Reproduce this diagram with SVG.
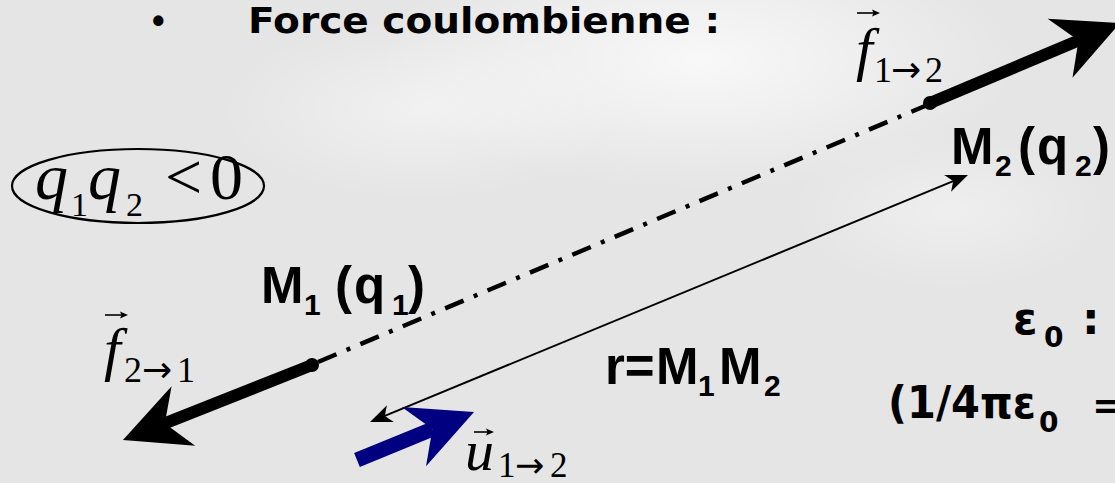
<svg xmlns="http://www.w3.org/2000/svg" width="1115" height="483" viewBox="0 0 1115 483">
  <style>
    .title { font-family: "DejaVu Sans", sans-serif; font-weight: bold; fill: #000; }
    .lbl { font-family: "Liberation Sans", Arial, sans-serif; font-weight: bold; fill: #000; }
    .math { font-family: "Liberation Serif", "Times New Roman", serif; fill: #000; }
    .it { font-style: italic; }
    .arr { font-family: "DejaVu Sans", sans-serif; }
    .vec { stroke: #000; stroke-width: 1.6; fill: none; }
    .vech { fill: #000; }
  </style>
  <defs>
    <radialGradient id="glow" cx="50%" cy="50%" r="50%">
      <stop offset="0" stop-color="#ffffff" stop-opacity="0.75"/>
      <stop offset="1" stop-color="#ffffff" stop-opacity="0"/>
    </radialGradient>
    <marker id="thin" markerUnits="userSpaceOnUse" overflow="visible" orient="auto-start-reverse" refX="-16" refY="0" markerWidth="30" markerHeight="30">
      <path d="M0,0 L-22,-9 L-16,0 L-22,9 Z" fill="#000"/>
    </marker>
    <marker id="thick" markerUnits="userSpaceOnUse" overflow="visible" orient="auto" refX="-45" refY="0" markerWidth="80" markerHeight="80">
      <path d="M0,0 L-65,-32 L-45,0 L-65,32 Z" fill="#000"/>
    </marker>
    <marker id="thickBlue" markerUnits="userSpaceOnUse" overflow="visible" orient="auto" refX="-45" refY="0" markerWidth="80" markerHeight="80">
      <path d="M0,0 L-65,-32 L-45,0 L-65,32 Z" fill="#000080"/>
    </marker>
  </defs>

  <!-- background -->
  <rect x="0" y="0" width="1115" height="483" fill="#e5e5e5"/>
  <ellipse cx="700" cy="60" rx="320" ry="130" fill="url(#glow)"/>
  <ellipse cx="420" cy="110" rx="200" ry="90" fill="url(#glow)" opacity="0.6"/>
  <ellipse cx="950" cy="210" rx="160" ry="80" fill="url(#glow)" opacity="0.5"/>

  <!-- title -->
  <g id="title">
    <text class="lbl" x="152" y="33" font-size="36" font-weight="normal">•</text>
    <text class="title" x="248" y="33" font-size="36" textLength="472" lengthAdjust="spacingAndGlyphs">Force coulombienne :</text>
  </g>

  <!-- condition q1q2<0 -->
  <g id="condition">
    <ellipse cx="138" cy="186" rx="126" ry="37" fill="none" stroke="#000" stroke-width="2.2"/>
    <text class="math" font-size="66"><tspan class="it" x="35" y="199">q</tspan><tspan x="71" y="216" font-size="34">1</tspan><tspan class="it" x="88" y="199">q</tspan><tspan x="126" y="216" font-size="34">2</tspan><tspan x="165" y="199">&lt;</tspan><tspan x="210" y="199">0</tspan></text>
  </g>

  <!-- connectors -->
  <g id="connectors">
    <line x1="318" y1="362" x2="925" y2="106" stroke="#000" stroke-width="4.5" stroke-dasharray="20 11 4 11"/>
    <line x1="384.8" y1="415.9" x2="953.2" y2="181.1" stroke="#000" stroke-width="2" marker-start="url(#thin)" marker-end="url(#thin)"/>
    <line x1="312" y1="365" x2="164.8" y2="423.4" stroke="#000" stroke-width="12" stroke-linecap="round" marker-end="url(#thick)"/>
    <circle cx="312" cy="365" r="7" fill="#000"/>
    <line x1="930" y1="103" x2="1078.5" y2="40.5" stroke="#000" stroke-width="12" stroke-linecap="round" marker-end="url(#thick)"/>
    <circle cx="930" cy="103" r="7" fill="#000"/>
    <line x1="357" y1="460" x2="432.4" y2="429.1" stroke="#000080" stroke-width="15" marker-end="url(#thickBlue)"/>
  </g>

  <!-- M1 -->
  <g id="M1">
    <text class="lbl" font-size="51"><tspan x="261" y="303">M</tspan><tspan x="304" y="315" font-size="30">1</tspan><tspan x="335" y="303">(</tspan><tspan x="354" y="303">q</tspan><tspan x="392" y="315" font-size="30">1</tspan><tspan x="408" y="303">)</tspan></text>
  </g>

  <!-- M2 -->
  <g id="M2">
    <text class="lbl" font-size="51"><tspan x="951" y="164">M</tspan><tspan x="995" y="176" font-size="30">2</tspan><tspan x="1018" y="164">(</tspan><tspan x="1037" y="164">q</tspan><tspan x="1075" y="176" font-size="30">2</tspan><tspan x="1093" y="164">)</tspan></text>
  </g>

  <!-- r = M1M2 -->
  <g id="distance">
    <text class="lbl" font-size="51"><tspan x="605" y="384">r=</tspan><tspan x="656" y="384">M</tspan><tspan x="698" y="396" font-size="30">1</tspan><tspan x="719" y="384">M</tspan><tspan x="764" y="396" font-size="30">2</tspan></text>
  </g>

  <!-- f 1->2 -->
  <g id="f12">
    <path class="vec" d="M857,13 L876,13"/>
    <path class="vech" d="M880,13 L872,9.5 L873.5,13 L872,16.5 Z"/>
    <text class="math" font-size="60"><tspan class="it" x="856" y="69">f</tspan><tspan x="874" y="82" font-size="36">1</tspan><tspan class="arr" x="891" y="82" font-size="36">→</tspan><tspan x="925" y="82" font-size="36">2</tspan></text>
  </g>

  <!-- f 2->1 -->
  <g id="f21">
    <path class="vec" d="M105,315 L124,315"/>
    <path class="vech" d="M128,315 L120,311.5 L121.5,315 L120,318.5 Z"/>
    <text class="math" font-size="60"><tspan class="it" x="104" y="369">f</tspan><tspan x="124" y="382" font-size="36">2</tspan><tspan class="arr" x="142" y="382" font-size="36">→</tspan><tspan x="177" y="382" font-size="36">1</tspan></text>
  </g>

  <!-- u 1->2 -->
  <g id="u12">
    <path class="vec" d="M474,432 L490,432"/>
    <path class="vech" d="M494,432 L486,428.5 L487.5,432 L486,435.5 Z"/>
    <text class="math" font-size="58"><tspan class="it" x="465" y="470">u</tspan><tspan x="498" y="477" font-size="35">1</tspan><tspan class="arr" x="515" y="477" font-size="35">→</tspan><tspan x="550" y="477" font-size="35">2</tspan></text>
  </g>

  <!-- epsilon -->
  <g id="eps">
    <text class="title" font-size="44"><tspan x="1013" y="334">ε</tspan><tspan x="1044" y="347" font-size="28">0</tspan><tspan x="1082" y="334">:</tspan></text>
    <text class="title" font-size="44"><tspan x="888" y="418" textLength="148" lengthAdjust="spacingAndGlyphs">(1/4πε</tspan><tspan x="1039" y="432" font-size="28">0</tspan><tspan x="1092" y="418" font-size="38">=</tspan></text>
  </g>
</svg>
